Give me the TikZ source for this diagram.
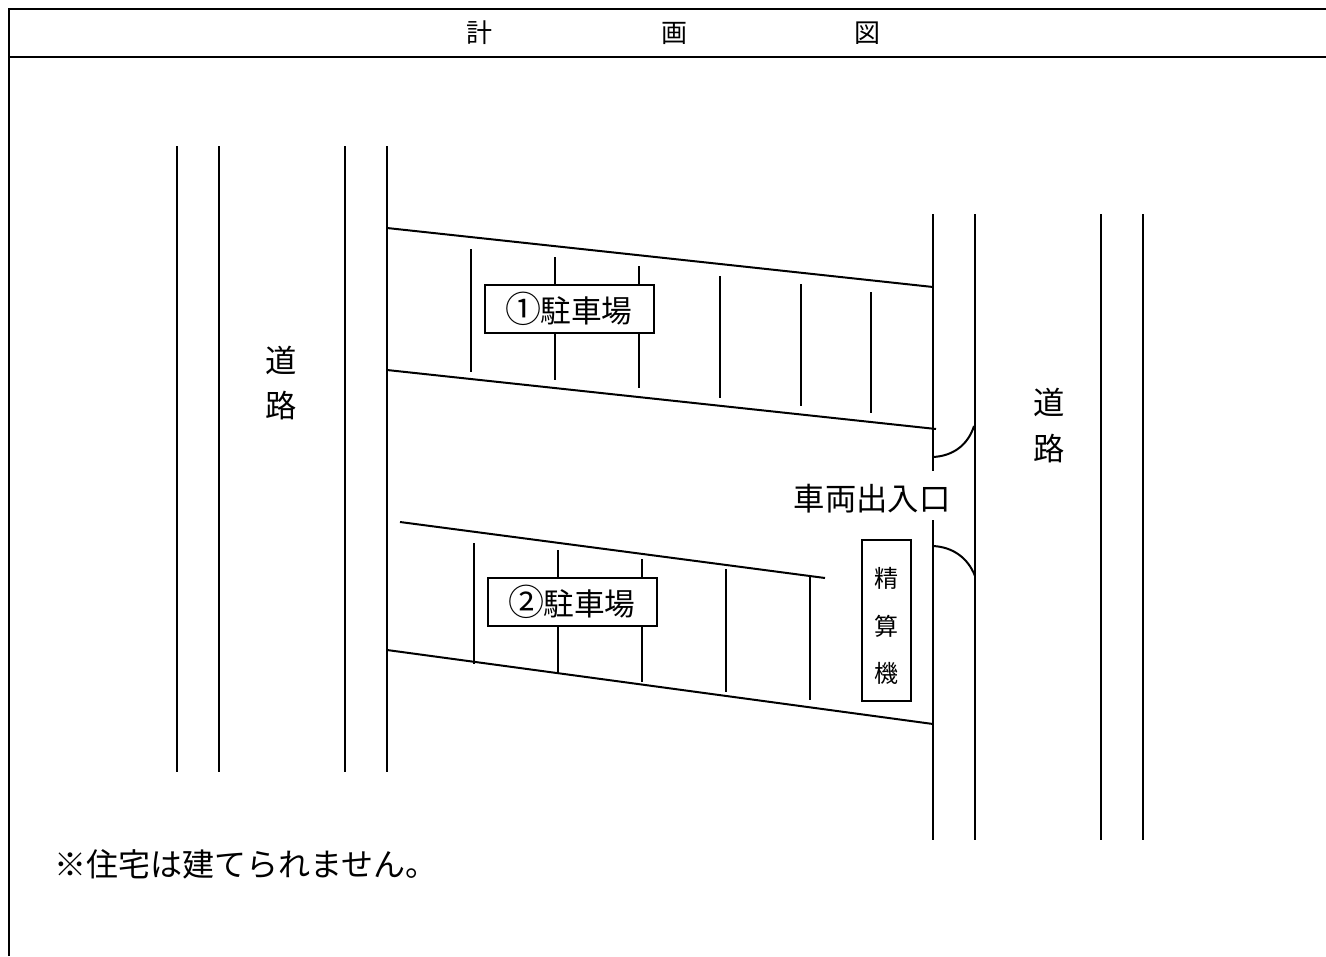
\documentclass[tikz,border=0pt]{standalone}
\usepackage{fontspec}
\setmainfont{Noto Sans CJK JP}
\tikzset{
  line/.style={line width=1.5pt,black},
  frame/.style={line width=2.1pt,black},
  lbl/.style={inner sep=0pt,font=\fontsize{23.5pt}{23.5pt}\selectfont},
  title/.style={inner sep=0pt,font=\fontsize{19.5pt}{19.5pt}\selectfont},
  small/.style={inner sep=0pt,font=\fontsize{18pt}{18pt}\selectfont},
  tag/.style={draw=black,line width=1.5pt,fill=white,inner sep=0pt,minimum width=126.75pt,minimum height=36pt,font=\fontsize{23pt}{23pt}\selectfont},
  note/.style={inner sep=0pt,font=\fontsize{24pt}{24pt}\selectfont}
}
\newcommand{\bigmark}[1]{{\fontsize{27pt}{27pt}\selectfont #1}}
\begin{document}
\begin{tikzpicture}[x=0.75pt,y=-0.75pt]
\useasboundingbox (0,0) rectangle (1326,956);
% frame
\draw[frame] (9,956) -- (9,9) -- (1326,9);
\draw[frame] (9,57) -- (1326,57);
\node[title] (t1) at (479,33) {計};
\node[title] (t2) at (674,33) {画};
\node[title] (t3) at (867,33) {図};
% left road
\foreach \x in {177,219,345,387} \draw[line] (\x,146) -- (\x,772);
% right road
\draw[line] (933,214) -- (933,471);
\draw[line] (933,520) -- (933,840);
\foreach \x in {975,1101,1143} \draw[line] (\x,214) -- (\x,840);
% parking 1
\draw[line] (387,228) -- (933,287);
\draw[line] (387,370) -- (936,429);
\foreach \x/\a/\b in {471/249/372,555/257/380,639/266/388,720/276/398,801/284/406,871/292/413}
  \draw[line] (\x,\a) -- (\x,\b);
\node[tag] (p1) at (569,309) {\raisebox{-2.2pt}{\bigmark{①}\hspace{-1pt}駐車場}\hspace{9.5pt}};
% parking 2
\draw[line] (400,522) -- (825,578);
\draw[line] (387,650) -- (933,724);
\foreach \x/\a/\b in {474/543/664,558/550/673,642/559/682,726/569/692,810/577/700}
  \draw[line] (\x,\a) -- (\x,\b);
\node[tag] (p2) at (572,602) {\raisebox{-2.2pt}{\bigmark{②}\hspace{-1pt}駐車場}\hspace{9.5pt}};
% gates
\draw[line] (933,457) .. controls (953,456) and (968,445) .. (974,426);
\draw[line] (933,546) .. controls (953,547) and (968,558) .. (975,576);
\node[lbl] (gate) at (872,499) {車両出入口};
% pay machine
\node[draw=black,line width=1.5pt,fill=none,minimum width=36.75pt,minimum height=120.75pt,inner sep=0pt] (pay) at (886.5,620) {};
\node[small] (k1) at (886,578) {精};
\node[small] (k2) at (886,626) {算};
\node[small] (k3) at (886,673) {機};
% road labels
\node[lbl] (r1) at (281,360) {道};
\node[lbl] (r2) at (281,406) {路};
\node[lbl] (r3) at (1049,402) {道};
\node[lbl] (r4) at (1049,449) {路};
\node[note,anchor=west] (note) at (54,864) {※住宅は建てられません。};
\end{tikzpicture}
\end{document}
